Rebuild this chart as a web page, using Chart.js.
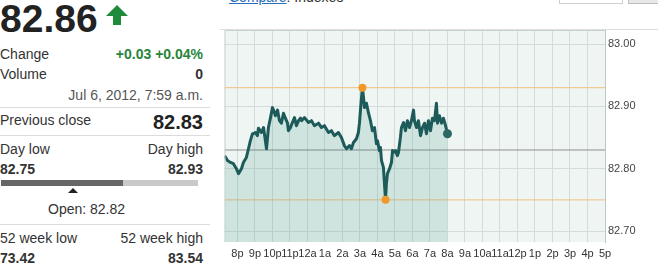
<!DOCTYPE html>
<html>
<head>
<meta charset="utf-8">
<script src="https://cdn.jsdelivr.net/npm/chart.js@4.4.1/dist/chart.umd.min.js"></script>
<style>
  body { margin: 0; width: 658px; height: 268px; overflow: hidden; background: #fff; position: relative;
         font-family: "Liberation Sans", Arial, sans-serif; color: #333; }
  .t { position: absolute; line-height: 20px; height: 20px; font-size: 14px; white-space: nowrap; }
  .r { left: 0; width: 203px; text-align: right; }
  .b { font-weight: bold; }
  .sep { position: absolute; left: 0; width: 210px; height: 1px; background: #dcdcdc; }
  #wrap { position: absolute; left: 220px; top: 0; width: 438px; height: 268px; }
</style>
</head>
<body>
<div class="t b" style="left:0;top:9px;font-size:39px;line-height:20px;color:#222;">82.86</div>
<svg style="position:absolute;left:0;top:0" width="140" height="30">
  <polygon points="117,5 128,16 121,16 121,25 113,25 113,16 106,16" fill="#1f8a3a"/>
</svg>

<div class="t" style="left:0;top:44px;">Change</div>
<div class="t r b" style="top:44px;color:#27853a;">+0.03 +0.04%</div>
<div class="t" style="left:0;top:64px;">Volume</div>
<div class="t r b" style="top:64px;">0</div>
<div class="t r" style="top:85px;color:#555;">Jul 6, 2012, 7:59 a.m.</div>
<div class="sep" style="top:107px;"></div>

<div class="t" style="left:0;top:110px;">Previous close</div>
<div class="t r b" style="top:112px;font-size:20px;color:#222;">82.83</div>
<div class="sep" style="top:135px;"></div>

<div class="t" style="left:0;top:139px;">Day low</div>
<div class="t r" style="top:139px;">Day high</div>
<div class="t b" style="left:0;top:159px;">82.75</div>
<div class="t r b" style="top:159px;">82.93</div>
<div style="position:absolute;left:1px;top:180px;width:122px;height:6px;background:#666;"></div>
<div style="position:absolute;left:123px;top:180px;width:75px;height:6px;background:#c9c9c9;"></div>
<svg style="position:absolute;left:66px;top:187px" width="14" height="8">
  <polygon points="7,1 12,6 2,6" fill="#222"/>
</svg>
<div class="t" style="left:48px;top:199px;">Open: 82.82</div>
<div class="sep" style="top:224px;"></div>

<div class="t" style="left:0;top:228px;">52 week low</div>
<div class="t r" style="top:228px;">52 week high</div>
<div class="t b" style="left:0;top:248px;">73.42</div>
<div class="t r b" style="top:248px;">83.54</div>

<div class="t" style="left:229px;top:-13px;"><span style="color:#2a6db8;text-decoration:underline;">Compare</span>: Indexes</div>
<div style="position:absolute;left:559px;top:-20px;width:62px;height:22px;border:1px solid #cfcfcf;background:#fff;"></div>
<div style="position:absolute;left:628px;top:-20px;width:40px;height:22px;border:1px solid #bdbdbd;background:#e8e8e8;"></div>
<div style="position:absolute;left:220px;top:29px;width:438px;height:1px;background:#dedede;"></div>

<div id="wrap"><canvas id="chart" width="438" height="268"></canvas></div>

<script>
// hours after 8 p.m. (8p = 0) and price at that time
const hours = [
  -0.74, -0.57, -0.40, -0.23, -0.06, 0.06, 0.23, 0.34, 0.51, 0.63,
  0.74, 0.86, 1.03, 1.14, 1.20, 1.37, 1.49, 1.54, 1.66, 1.77,
  1.89, 2.00, 2.06, 2.17, 2.29, 2.40, 2.51, 2.63, 2.74, 2.86,
  2.91, 3.03, 3.14, 3.26, 3.37, 3.49, 3.60, 3.66, 3.83, 4.06,
  4.23, 4.40, 4.63, 4.80, 4.97, 5.20, 5.37, 5.54, 5.77, 5.94,
  6.11, 6.23, 6.40, 6.51, 6.63, 6.80, 6.91, 6.97, 7.03, 7.09,
  7.14, 7.20, 7.26, 7.37, 7.49, 7.60, 7.71, 7.83, 7.94, 8.00,
  8.11, 8.17, 8.23, 8.34, 8.40, 8.46, 8.51, 8.57, 8.69, 8.80,
  8.86, 8.91, 9.03, 9.14, 9.20, 9.31, 9.37, 9.49, 9.60, 9.71,
  9.83, 9.94, 10.06, 10.11, 10.23, 10.34, 10.46, 10.57, 10.69, 10.80,
  10.91, 11.03, 11.14, 11.26, 11.37, 11.43, 11.54, 11.66, 11.77, 11.89,
  12.00
];
const prices = [
  82.821, 82.813, 82.810, 82.808, 82.800, 82.792, 82.800, 82.810, 82.818, 82.832,
  82.845, 82.856, 82.858, 82.853, 82.865, 82.858, 82.866, 82.856, 82.832, 82.866,
  82.882, 82.898, 82.894, 82.885, 82.894, 82.877, 82.873, 82.889, 82.881, 82.873,
  82.861, 82.866, 82.874, 82.882, 82.869, 82.877, 82.881, 82.877, 82.882, 82.874,
  82.877, 82.869, 82.873, 82.866, 82.869, 82.858, 82.861, 82.853, 82.858, 82.850,
  82.837, 82.832, 82.837, 82.832, 82.842, 82.848, 82.858, 82.873, 82.894, 82.915,
  82.930, 82.915, 82.898, 82.905, 82.889, 82.877, 82.861, 82.866, 82.840, 82.845,
  82.829, 82.834, 82.813, 82.802, 82.776, 82.750, 82.776, 82.792, 82.800, 82.810,
  82.829, 82.826, 82.829, 82.821, 82.826, 82.850, 82.866, 82.874, 82.861, 82.877,
  82.866, 82.877, 82.894, 82.877, 82.866, 82.877, 82.853, 82.866, 82.873, 82.856,
  82.877, 82.861, 82.881, 82.877, 82.905, 82.873, 82.885, 82.873, 82.881, 82.869,
  82.856
];
const xLabels = ["8p", "9p", "10p", "11p", "12a", "1a", "2a", "3a", "4a", "5a", "6a", "7a",
                 "8a", "9a", "10a", "11a", "12p", "1p", "2p", "3p", "4p", "5p"];
const yTicks = [82.70, 82.80, 82.90, 83.00];
const prevClose = 82.83;
const dayHigh = 82.93;
const dayLow = 82.75;

const xMin = -0.74;
const xMax = xLabels.length - 1;

const series = hours.map((h, i) => ({ x: h, y: prices[i] }));
const hiIdx = prices.indexOf(Math.max(...prices));
const loIdx = prices.indexOf(Math.min(...prices));
const last = series[series.length - 1];

function hLine(v) {
  return [{ x: xMin, y: v }, { x: xMax, y: v }];
}

const panelBg = {
  id: "panelBg",
  beforeDraw(chart) {
    const { ctx, chartArea: a } = chart;
    ctx.save();
    ctx.fillStyle = "#eef5f2";
    ctx.fillRect(a.left, a.top, a.right - a.left, a.bottom - a.top);
    ctx.restore();
  },
  afterDraw(chart) {
    const { ctx, chartArea: a } = chart;
    ctx.save();
    ctx.strokeStyle = "#c8d1ce";
    ctx.lineWidth = 1;
    ctx.beginPath();
    ctx.moveTo(a.left + 0.5, a.bottom);
    ctx.lineTo(a.left + 0.5, a.top + 0.5);
    ctx.lineTo(a.right, a.top + 0.5);
    ctx.stroke();
    ctx.restore();
  }
};

Chart.defaults.font.family = '"Liberation Sans", Arial, sans-serif';

new Chart(document.getElementById("chart").getContext("2d"), {
  type: "line",
  data: {
    datasets: [
      {
        data: series,
        borderColor: "#1d5b5a",
        borderWidth: 3,
        borderJoinStyle: "round",
        fill: "start",
        backgroundColor: "rgba(20, 125, 115, 0.14)",
        pointRadius: 0,
        tension: 0,
        order: 2,
      },
      { data: hLine(prevClose), borderColor: "#8e8e8e", borderWidth: 1, pointRadius: 0, order: 3 },
      { data: hLine(dayHigh), borderColor: "#f1c084", borderWidth: 1, pointRadius: 0, order: 3 },
      { data: hLine(dayLow), borderColor: "#f1c084", borderWidth: 1, pointRadius: 0, order: 3 },
      {
        data: [{ x: hours[hiIdx], y: dayHigh }, { x: hours[loIdx], y: dayLow }],
        showLine: false,
        pointRadius: 4,
        pointBackgroundColor: "#f0982a",
        pointBorderWidth: 0,
        order: 1,
      },
      {
        data: [last],
        showLine: false,
        pointRadius: 4.5,
        pointBackgroundColor: "#2c6665",
        pointBorderWidth: 0,
        order: 1,
      },
    ],
  },
  options: {
    responsive: false,
    animation: false,
    devicePixelRatio: 1,
    layout: { padding: { left: 4, top: 30, right: 0, bottom: 0 } },
    plugins: {
      legend: { display: false },
      tooltip: { enabled: false },
    },
    scales: {
      x: {
        type: "linear",
        min: xMin,
        max: xMax,
        afterBuildTicks: (s) => { s.ticks = xLabels.map((_, i) => ({ value: i })); },
        afterFit: (s) => { s.height = 26; },
        ticks: {
          callback: (v) => xLabels[Math.round(v)],
          autoSkip: false,
          maxRotation: 0,
          color: "#333",
          font: { size: 11 },
          padding: 5,
        },
        grid: { color: "#d3dcd9", drawTicks: false },
        border: { display: false },
      },
      y: {
        position: "right",
        min: 82.6824,
        max: 83.0225,
        afterBuildTicks: (s) => { s.ticks = yTicks.map((v) => ({ value: v })); },
        afterFit: (s) => { s.width = 53; },
        ticks: {
          callback: (v) => Number(v).toFixed(2),
          color: "#444",
          font: { size: 11 },
          padding: 3,
        },
        grid: { color: "#d3dcd9", drawTicks: false },
        border: { color: "#bfc8c5" },
      },
    },
  },
  plugins: [panelBg],
});
</script>
</body>
</html>
